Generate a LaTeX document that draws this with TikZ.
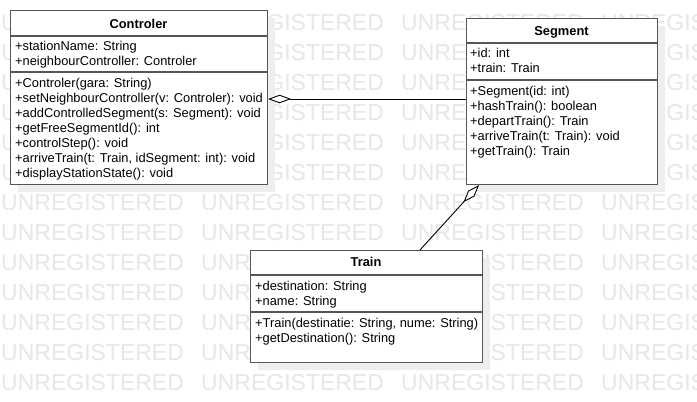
\documentclass[tikz,border=0pt]{standalone}
\usepackage{fontspec}
\setmainfont{Liberation Sans}
\usetikzlibrary{arrows.meta,shadows}
\definecolor{boxgray}{RGB}{85,85,85}
\definecolor{shadowgray}{RGB}{238,238,238}
\definecolor{wmgray}{RGB}{231,231,231}
\begin{document}
\begin{tikzpicture}[x=1pt,y=-1pt,
  wm/.style={anchor=base west,inner sep=0pt,text=wmgray,font=\fontsize{23}{23}\selectfont},
  umlbox/.style={draw=boxgray,fill=white,line width=1.1pt,inner sep=0pt,anchor=north west,
    general shadow={fill=shadowgray,shadow xshift=7pt,shadow yshift=-7pt}},
  sep/.style={draw=boxgray,line width=1.1pt},
  member/.style={anchor=base west,inner sep=0pt,font=\fontsize{12.85}{15}\selectfont},
  title/.style={anchor=base,inner sep=0pt,font=\fontsize{12.85}{15}\selectfont\bfseries},
  aggr/.style={-{Diamond[open,length=23pt,width=8.5pt,fill=white,line width=0.9pt]},line width=0.9pt,black}]
\useasboundingbox (0,0) rectangle (697,402);
\fill[white] (0,0) rectangle (697,402);
\begin{scope}
\clip (0,0) rectangle (697,402);
\foreach \r in {0,...,12}{
  \foreach \c in {0,...,3}{
    \node[wm] (wm-\r-\c) at (1+200*\c,30.7+30*\r) {UNREGISTERED};
  }
}
\end{scope}
% boxes
\node[umlbox,minimum width=257pt,minimum height=174pt] (ctrl) at (10,10) {};
\node[umlbox,minimum width=191pt,minimum height=166pt] (seg) at (466,18) {};
\node[umlbox,minimum width=232pt,minimum height=112pt] (train) at (250,250) {};
% separators
\draw[sep] (10,36) -- (267,36);
\draw[sep] (10,72) -- (267,72);
\draw[sep] (466,43) -- (657,43);
\draw[sep] (466,80) -- (657,80);
\draw[sep] (250,275) -- (482,275);
\draw[sep] (250,312) -- (482,312);
% Controler
\node[title] (ctrl-t) at (138.5,28.3) {Controler};
\node[member] (ctrl-a1) at (15,50) {+stationName: String};
\node[member] (ctrl-a2) at (15,65) {+neighbourController: Controler};
\node[member] (ctrl-m1) at (15,87) {+Controler(gara: String)};
\node[member] (ctrl-m2) at (15,102) {+setNeighbourController(v: Controler): void};
\node[member] (ctrl-m3) at (15,117) {+addControlledSegment(s: Segment): void};
\node[member] (ctrl-m4) at (15,132) {+getFreeSegmentId(): int};
\node[member] (ctrl-m5) at (15,147) {+controlStep(): void};
\node[member] (ctrl-m6) at (15,162) {+arriveTrain(t: Train, idSegment: int): void};
\node[member] (ctrl-m7) at (15,177) {+displayStationState(): void};
% Segment
\node[title] (seg-t) at (561.5,35.3) {Segment};
\node[member] (seg-a1) at (470,57) {+id: int};
\node[member] (seg-a2) at (470,72) {+train: Train};
\node[member] (seg-m1) at (470,95) {+Segment(id: int)};
\node[member] (seg-m2) at (470,110) {+hashTrain(): boolean};
\node[member] (seg-m3) at (470,125) {+departTrain(): Train};
\node[member] (seg-m4) at (470,140) {+arriveTrain(t: Train): void};
\node[member] (seg-m5) at (470,155) {+getTrain(): Train};
% Train
\node[title] (train-t) at (366,266.7) {Train};
\node[member] (train-a1) at (255,290) {+destination: String};
\node[member] (train-a2) at (255,305) {+name: String};
\node[member] (train-m1) at (255,327.5) {+Train(destinatie: String, nume: String)};
\node[member] (train-m2) at (255,342.5) {+getDestination(): String};
% connectors
\draw[aggr] (seg.west |- 0,99) -- (ctrl.east |- 0,99);
\draw[aggr] ([xshift=170pt]train.north west) -- ([xshift=13pt]seg.south west);
\end{tikzpicture}
\end{document}
